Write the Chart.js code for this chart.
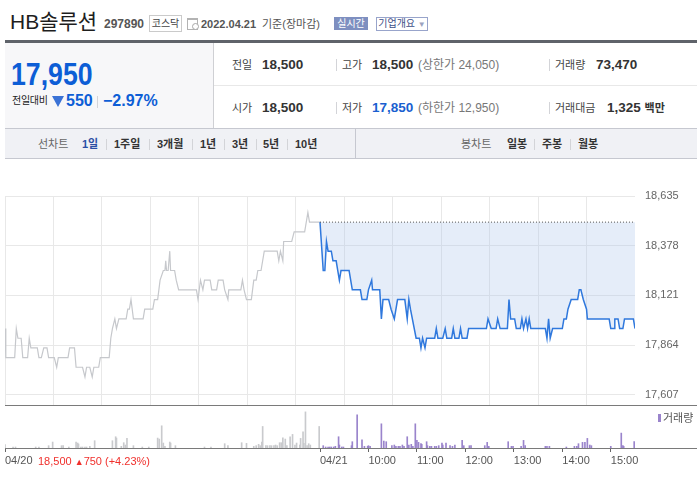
<!DOCTYPE html>
<html><head><meta charset="utf-8">
<script src="https://cdn.jsdelivr.net/npm/chart.js@4.4.1/dist/chart.umd.min.js"></script>
<style>
html,body{margin:0;padding:0;background:#fff;}
body{width:697px;height:484px;position:relative;overflow:hidden;font-family:"Liberation Sans","Noto Sans CJK KR",sans-serif;color:#333;}
.t{position:absolute;white-space:nowrap;}
.sep{position:absolute;width:1px;background:#d3d4d8;}
.lab{font-size:11px;color:#444;line-height:16px;}
.val{font-size:13.5px;font-weight:bold;color:#333;line-height:16px;}
.tab{font-size:11px;font-weight:bold;color:#333;line-height:16px;top:136px;}
canvas{position:absolute;left:0;}
</style></head>
<body>
<!-- title row -->
<div class="t" style="left:10px;top:9px;font-size:21px;line-height:26px;color:#1e1e1e;">HB솔루션</div>
<div class="t" style="left:104px;top:16px;font-size:12px;line-height:16px;font-weight:bold;color:#555;">297890</div>
<div class="t" style="left:149px;top:15px;width:31px;height:15px;border:1px solid #cacaca;font-size:10px;line-height:15px;text-align:center;color:#444;">코스닥</div>
<div class="t" style="left:187px;top:18px;width:9px;height:9px;border:1px solid #b3b3b3;border-top:2px solid #b3b3b3;"></div>
<div class="t" style="left:192px;top:23px;width:5px;height:5px;border:1px solid #a8a8a8;border-radius:50%;background:#fff;"></div>
<div class="t" style="left:201px;top:16px;font-size:11px;line-height:16px;font-weight:bold;color:#555;">2022.04.21</div>
<div class="t" style="left:262px;top:16px;font-size:11px;line-height:16px;color:#555;">기준(장마감)</div>
<div class="t" style="left:334px;top:17px;width:34px;height:13px;background:#7e8fc0;color:#fff;font-size:10px;line-height:13px;text-align:center;">실시간</div>
<div class="t" style="left:376px;top:17px;width:50px;height:12px;border:1px solid #98a4cb;color:#3d4e87;font-size:10px;line-height:12px;text-align:center;">기업개요 <span style="color:#9aa3c0;font-size:8px;">▼</span></div>

<div class="t" style="left:5px;top:40px;width:692px;height:3px;background:#5f636a;"></div>

<!-- left box -->
<div class="t" style="left:5px;top:43px;width:208px;height:85px;background:#f7f7f9;border-right:1px solid #cfd0d4;"></div>
<div class="t" style="left:11px;top:57px;font-size:31px;line-height:36px;font-weight:bold;color:#0d5ed6;transform:scaleX(0.86);transform-origin:0 0;">17,950</div>
<div class="t" style="left:12px;top:94px;font-size:10px;line-height:14px;color:#222;letter-spacing:-0.3px;">전일대비</div>
<div class="t" style="left:52px;top:96px;width:0;height:0;border-left:6px solid transparent;border-right:6px solid transparent;border-top:11px solid #3a72d6;"></div>
<div class="t" style="left:66px;top:92px;font-size:16px;line-height:18px;font-weight:bold;color:#0d5ed6;">550</div>
<div class="sep" style="left:97px;top:96px;height:12px;"></div>
<div class="t" style="left:103px;top:92px;font-size:16px;line-height:18px;font-weight:bold;color:#0d5ed6;">−2.97%</div>

<!-- info grid -->
<div class="t" style="left:214px;top:85px;width:483px;height:1px;background:#e8e8e8;"></div>
<div class="t lab" style="left:232px;top:56.5px;">전일</div>
<div class="t val" style="left:262px;top:56.5px;">18,500</div>
<div class="sep" style="left:336px;top:59px;height:12px;"></div>
<div class="t lab" style="left:342px;top:56.5px;">고가</div>
<div class="t val" style="left:372px;top:56.5px;">18,500</div>
<div class="t" style="left:418px;top:56.5px;font-size:12px;line-height:16px;color:#777;">(상한가 24,050)</div>
<div class="sep" style="left:549px;top:59px;height:12px;"></div>
<div class="t lab" style="left:555px;top:56.5px;">거래량</div>
<div class="t val" style="left:596px;top:56.5px;">73,470</div>

<div class="t lab" style="left:232px;top:100px;">시가</div>
<div class="t val" style="left:262px;top:100px;">18,500</div>
<div class="sep" style="left:336px;top:102px;height:12px;"></div>
<div class="t lab" style="left:342px;top:100px;">저가</div>
<div class="t val" style="left:372px;top:100px;color:#1a5fd0;">17,850</div>
<div class="t" style="left:418px;top:100px;font-size:12px;line-height:16px;color:#777;">(하한가 12,950)</div>
<div class="sep" style="left:549px;top:102px;height:12px;"></div>
<div class="t lab" style="left:555px;top:100px;">거래대금</div>
<div class="t val" style="left:607px;top:100px;">1,325 <span style="font-size:11px;">백만</span></div>

<!-- tab bar -->
<div class="t" style="left:5px;top:128px;width:692px;height:29px;background:#f0f1f5;border-top:1px solid #c6c8d0;border-bottom:1px solid #c6c8d0;"></div>
<div class="t" style="left:355px;top:129px;width:1px;height:29px;background:#c6c8d0;"></div>
<div class="t tab" style="left:38px;color:#666;font-weight:normal;">선차트</div>
<div class="t tab" style="left:82px;color:#2a4fa5;">1일</div>
<div class="sep" style="left:106px;top:139px;height:11px;"></div>
<div class="t tab" style="left:114px;">1주일</div>
<div class="sep" style="left:149px;top:139px;height:11px;"></div>
<div class="t tab" style="left:157px;">3개월</div>
<div class="sep" style="left:192px;top:139px;height:11px;"></div>
<div class="t tab" style="left:200px;">1년</div>
<div class="sep" style="left:224px;top:139px;height:11px;"></div>
<div class="t tab" style="left:232px;">3년</div>
<div class="sep" style="left:256px;top:139px;height:11px;"></div>
<div class="t tab" style="left:263px;">5년</div>
<div class="sep" style="left:287px;top:139px;height:11px;"></div>
<div class="t tab" style="left:295px;">10년</div>
<div class="t tab" style="left:461px;color:#666;font-weight:normal;">봉차트</div>
<div class="t tab" style="left:507px;">일봉</div>
<div class="sep" style="left:534px;top:139px;height:11px;"></div>
<div class="t tab" style="left:542px;">주봉</div>
<div class="sep" style="left:570px;top:139px;height:11px;"></div>
<div class="t tab" style="left:578px;">월봉</div>

<!-- charts -->
<canvas id="price" width="697" height="230" style="top:180px;width:697px;height:230px;"></canvas>
<canvas id="vol" width="697" height="75" style="top:405px;width:697px;height:75px;"></canvas>

<div class="t" style="left:658px;top:414px;width:3px;height:8px;background:#9a84cc;"></div>
<div class="t" style="left:663px;top:410px;font-size:11px;line-height:16px;color:#555;">거래량</div>
<div class="t" style="left:38px;top:453px;font-size:11px;line-height:16px;color:#f0302c;">18,500 <span style="font-size:9px;">▲</span>750 (+4.23%)</div>

<script>
// ---- data ----
const prevClose = 18500;
const sessionMinutes = 390;
const yTickValues = [17607, 17864, 18121, 18378, 18635];
const xLabelTicks = [0, 390, 450, 510, 570, 630, 690, 750];
const xTickLabels = ['04/20', '04/21', '10:00', '11:00', '12:00', '13:00', '14:00', '15:00'];

// 04/20 (minutes after 09:00) and price
const prevTimes = [0,1,12,14,16,20,22,28,30,32,40,42,45,48,52,54,61,64,66,78,80,86,88,96,99,101,105,108,110,116,118,129,131,133,136,138,141,150,152,154,156,157,159,171,173,183,185,189,192,196,198,199,200,202,204,205,210,212,215,237,239,242,245,247,254,256,262,264,270,272,276,277,292,294,296,299,305,308,311,313,317,321,337,339,341,344,345,355,358,371,375,377,390];
const prevPrices = [17950,17800,17800,17950,17900,17900,17800,17800,17900,17850,17850,17800,17800,17850,17850,17800,17800,17750,17800,17800,17850,17850,17750,17750,17700,17750,17750,17700,17750,17750,17800,17800,17900,17950,18000,17950,18000,18000,18050,18050,18100,18100,18000,18000,18050,18050,18100,18100,18200,18250,18250,18300,18250,18250,18350,18250,18250,18200,18150,18150,18100,18200,18150,18200,18200,18150,18150,18200,18200,18150,18100,18150,18150,18200,18150,18100,18100,18200,18200,18250,18250,18350,18350,18300,18350,18300,18400,18400,18450,18450,18550,18500,18500];

// 04/21 (minutes after 09:00) and price
const todayTimes = [0,4,6,8,10,14,16,20,22,24,26,36,40,50,52,58,60,64,65,74,76,78,85,88,92,96,105,108,110,112,119,123,125,127,130,132,142,144,146,152,155,157,163,165,167,172,174,176,182,184,206,208,212,218,220,223,232,234,236,241,243,248,250,252,255,257,259,261,279,281,283,285,288,300,302,305,307,311,319,321,323,326,330,331,358,360,364,365,369,371,375,377,388,390];
const todayPrices = [18500,18250,18250,18400,18350,18350,18300,18300,18250,18200,18250,18250,18150,18150,18100,18100,18150,18200,18150,18150,18000,18100,18100,18050,18000,18100,18100,18000,18100,18050,17900,17900,17850,17900,17850,17900,17900,17950,17900,17900,17950,17900,17900,17950,17900,17900,17950,17900,17900,17950,17950,18000,17950,17950,18000,17950,17950,18100,18000,18000,17950,17950,18000,17950,18000,17950,18000,17950,17950,17900,18000,17900,17950,17950,18000,18000,18050,18100,18100,18150,18150,18100,18050,18000,18000,17950,17950,18000,18000,17950,17950,18000,18000,17950];

// volumes
const prevVolTimes = [0,10,13,38,42,54,59,70,72,79,88,90,91,94,96,99,101,105,111,133,137,138,144,147,149,151,159,170,178,189,191,194,196,198,204,205,211,247,255,272,276,293,299,308,311,314,316,318,319,323,325,328,330,333,335,337,340,342,344,347,349,353,356,359,361,365,366,369,370,372,374,376,378,389];
const prevVolumes = [600,180,180,180,180,420,1080,420,420,180,1080,900,720,180,180,180,180,300,1320,1320,2040,1800,300,960,540,1740,420,180,180,1800,1620,4020,900,300,1080,900,420,180,180,780,420,960,840,300,420,660,420,1080,3900,420,420,420,420,420,540,420,960,960,1860,1620,420,2040,2460,540,900,540,1740,2940,840,6540,420,780,540,3900];
const todayVolTimes = [4,7,10,12,14,17,19,23,24,27,29,39,40,46,52,55,59,60,62,76,79,82,89,92,94,97,99,102,104,108,110,113,115,118,120,122,125,126,132,133,136,138,142,144,147,151,152,156,161,164,167,176,178,185,187,204,207,209,233,237,239,249,252,254,279,281,284,305,315,318,320,325,328,331,334,336,360,373,375,376,389];
const todayVolumes = [420,180,180,180,180,180,300,2040,540,180,180,420,1140,6000,1500,300,300,420,300,4380,1260,1140,420,540,300,300,300,540,300,2040,540,660,300,4380,1380,1020,780,660,1140,420,300,300,300,300,420,900,540,900,420,300,540,1380,420,420,420,420,1020,300,1140,300,300,300,1380,420,300,300,300,180,300,300,780,1020,1020,1740,540,420,300,2700,420,300,1140];

// ---- charts ----
const fullBaseline = {
  id: 'fullBaseline',
  afterDraw(chart, args, opts) {
    const {ctx, chartArea} = chart;
    ctx.save();
    ctx.strokeStyle = opts.color || '#777';
    ctx.lineWidth = 1;
    const y = Math.round(chartArea.bottom) + 0.5;
    ctx.beginPath(); ctx.moveTo(chartArea.left, y); ctx.lineTo(chart.width, y); ctx.stroke();
    ctx.restore();
  }
};

const fmt = v => Number(v).toLocaleString('en-US');

new Chart(document.getElementById('price'), {
  type: 'line',
  data: {
    datasets: [
      {
        data: [{x: sessionMinutes, y: prevClose}, {x: sessionMinutes * 2, y: prevClose}],
        borderColor: '#555', borderWidth: 1, borderDash: [1, 2], pointRadius: 0, fill: false
      },
      {
        data: todayTimes.map((t, i) => ({x: t + sessionMinutes, y: todayPrices[i]})),
        borderColor: '#2f78dd', borderWidth: 1.5, pointRadius: 0,
        fill: {value: prevClose}, backgroundColor: 'rgba(168,195,235,0.3)'
      },
      {
        data: prevTimes.map((t, i) => ({x: t, y: prevPrices[i]})),
        borderColor: '#c6c8cc', borderWidth: 1.2, pointRadius: 0, fill: false
      }
    ]
  },
  options: {
    responsive: false, animation: false, devicePixelRatio: 1,
    layout: {padding: {left: 5, right: 0, top: 16, bottom: 5}},
    plugins: {legend: {display: false}, tooltip: {enabled: false}, fullBaseline: {color: '#7a7a7a'}},
    elements: {line: {tension: 0}},
    scales: {
      x: {
        type: 'linear', min: 0, max: sessionMinutes * 2, offset: false,
        ticks: {display: false, stepSize: 60},
        grid: {color: c => (c.tick && c.tick.value === sessionMinutes * 2) ? 'rgba(0,0,0,0)' : '#e8e8e8', drawTicks: false, offset: false},
        border: {display: false},
        afterFit: s => { s.height = 0; s.paddingLeft = 0; s.paddingRight = 0; }
      },
      y: {
        position: 'right', min: 17555, max: 18635,
        afterBuildTicks: s => { s.ticks = yTickValues.map(v => ({value: v})); },
        ticks: {callback: v => fmt(v), padding: 10, color: '#666', font: {family: 'Liberation Sans', size: 11}},
        grid: {color: '#e8e8e8', drawTicks: false},
        border: {display: false},
        afterFit: s => { s.width = 62; s.paddingTop = 0; s.paddingBottom = 0; }
      }
    }
  },
  plugins: [fullBaseline]
});

new Chart(document.getElementById('vol'), {
  type: 'bar',
  data: {
    datasets: [
      {
        data: todayVolTimes.map((t, i) => ({x: t + sessionMinutes, y: todayVolumes[i]})),
        backgroundColor: '#9a84cc', barThickness: 1
      },
      {
        data: prevVolTimes.map((t, i) => ({x: t, y: prevVolumes[i]})),
        backgroundColor: '#c9cacd', barThickness: 1
      }
    ]
  },
  options: {
    responsive: false, animation: false, devicePixelRatio: 1,
    layout: {padding: {left: 5, right: 62, top: 6, bottom: 0}},
    plugins: {legend: {display: false}, tooltip: {enabled: false}, fullBaseline: {color: '#7a7a7a'}},
    datasets: {bar: {grouped: false}},
    scales: {
      x: {
        type: 'linear', min: 0, max: sessionMinutes * 2, offset: false,
        afterBuildTicks: s => { s.ticks = xLabelTicks.map(v => ({value: v})); },
        ticks: {
          callback: (v, i) => xTickLabels[i], autoSkip: false, maxRotation: 0, align: 'start',
          padding: 2, color: '#555', font: {family: 'Liberation Sans', size: 11}
        },
        grid: {drawOnChartArea: false, drawTicks: true, tickLength: 4, tickColor: '#666', offset: false},
        border: {display: false},
        afterFit: s => { s.height = 32; s.paddingLeft = 0; s.paddingRight = 0; }
      },
      y: {display: false, min: 0, max: 6700}
    }
  },
  plugins: [fullBaseline]
});
</script>
</body></html>
